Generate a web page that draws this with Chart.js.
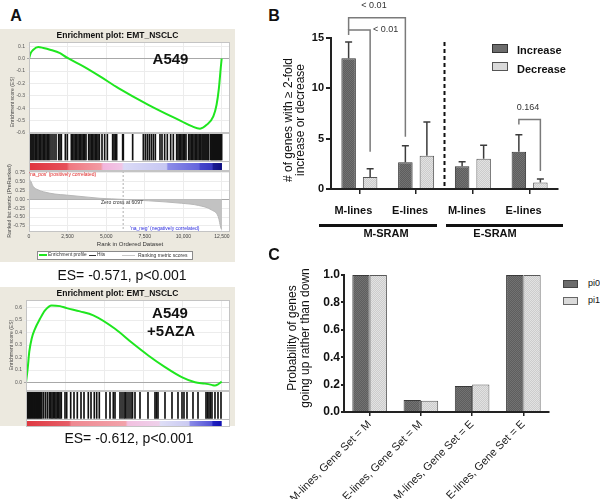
<!DOCTYPE html>
<html>
<head>
<meta charset="utf-8">
<script src="https://cdn.jsdelivr.net/npm/chart.js@4.4.0/dist/chart.umd.min.js"></script>
<style>
body { margin: 0; background: #fff; }
#page { position: relative; width: 600px; height: 499px; overflow: hidden; font-family: 'Liberation Sans', Arial, sans-serif; color: #111; }
#page canvas { position: absolute; }
.c, .l, .r, .b { position: absolute; white-space: nowrap; line-height: 1; }
.c { transform: translate(-50%, -50%); }
.l { transform: translate(0, -50%); }
.r { transform: translate(-50%, -50%) rotate(-90deg); }
.beige { position: absolute; background: #ece9df; }
.bx { position: absolute; }
</style>
</head>
<body>
<div id="page">
  <!-- panel A frames -->
  <div class="beige" style="left:0;top:29px;width:235px;height:233px"></div>
  <div class="beige" style="left:0;top:287px;width:235px;height:139px"></div>

  <canvas id="esA"></canvas>
  <canvas id="hitA"></canvas>
  <canvas id="rankA"></canvas>
  <canvas id="esB"></canvas>
  <canvas id="hitB"></canvas>
  <canvas id="barB"></canvas>
  <canvas id="barC"></canvas>

  <div class="c" style="left:16px;top:15.5px;font-size:16px;font-weight:bold">A</div>
  <div class="c" style="left:274px;top:15.5px;font-size:16px;font-weight:bold">B</div>
  <div class="c" style="left:274px;top:255px;font-size:16px;font-weight:bold">C</div>

  <!-- GSEA top -->
  <div class="c" style="left:117.5px;top:35px;font-size:8.5px;font-weight:bold">Enrichment plot: EMT_NSCLC</div>
  <div class="c" style="left:170.5px;top:58px;font-size:15px;font-weight:bold">A549</div>
  <div class="r" style="left:12px;top:102px;font-size:5px;color:#444">Enrichment score (ES)</div>
  <div class="r" style="left:10px;top:201px;font-size:5.3px;color:#444">Ranked list metric (PreRanked)</div>
  <div class="l" style="left:29px;top:174px;font-size:5px;color:#e02626">'na_pos' (positively correlated)</div>
  <div class="l" style="left:130px;top:227.5px;font-size:5px;color:#2a2ae0">'na_neg' (negatively correlated)</div>
  <div class="l" style="left:101px;top:201.5px;font-size:5px;color:#333">Zero cross at 6097</div>
  <div class="c" style="left:130px;top:244px;font-size:6px;color:#333">Rank in Ordered Dataset</div>
  <div class="bx" style="left:37px;top:250.5px;width:156px;height:9px;border:1px solid #8a8a8a;background:#fff;box-sizing:border-box"></div>
  <div class="bx" style="left:39px;top:254px;width:8px;height:2px;background:#1fe61f"></div>
  <div class="l" style="left:48px;top:255px;font-size:4.8px;color:#333">Enrichment profile</div>
  <div class="bx" style="left:89px;top:254.5px;width:7px;height:1px;background:#333"></div>
  <div class="l" style="left:97px;top:255px;font-size:4.8px;color:#333">Hits</div>
  <div class="bx" style="left:122px;top:254.5px;width:13px;height:1px;background:#c8c8c8"></div>
  <div class="l" style="left:138px;top:255px;font-size:5px;color:#333">Ranking metric scores</div>
  <div class="c" style="left:122px;top:275px;font-size:14px">ES= -0.571, p&lt;0.001</div>

  <!-- GSEA bottom -->
  <div class="c" style="left:117.5px;top:292.5px;font-size:8.5px;font-weight:bold">Enrichment plot: EMT_NSCLC</div>
  <div class="c" style="left:170px;top:312px;font-size:15px;font-weight:bold">A549</div>
  <div class="c" style="left:171px;top:330px;font-size:15px;font-weight:bold">+5AZA</div>
  <div class="r" style="left:11px;top:345px;font-size:5px;color:#444">Enrichment score (ES)</div>
  <div class="c" style="left:129px;top:438px;font-size:14px">ES= -0.612, p&lt;0.001</div>

  <!-- panel B -->
  <div class="r" style="left:287.5px;top:120px;font-size:12px">&#35; of genes with &#8805; 2-fold</div>
  <div class="r" style="left:300px;top:120px;font-size:12px">increase or decrease</div>
  <div class="c" style="left:374px;top:5px;font-size:9px;color:#333">&lt; 0.01</div>
  <div class="l" style="left:373px;top:29px;font-size:9px;color:#333">&lt; 0.01</div>
  <div class="c" style="left:528px;top:107px;font-size:9px;color:#333">0.164</div>
  <div class="bx" style="left:492px;top:44px;width:16px;height:9px;background:#6c6c6c;border:1px solid #333;box-sizing:border-box"></div>
  <div class="bx" style="left:492px;top:62px;width:16px;height:9px;background:#dadada;border:1px solid #555;box-sizing:border-box"></div>
  <div class="l" style="left:517px;top:50px;font-size:11px;font-weight:bold">Increase</div>
  <div class="l" style="left:517px;top:69px;font-size:11px;font-weight:bold">Decrease</div>
  <div class="bx" style="left:319px;top:224px;width:118px;height:3px;background:#111"></div>
  <div class="bx" style="left:446px;top:224px;width:117px;height:3px;background:#111"></div>
  <div class="c" style="left:386px;top:233px;font-size:11px;font-weight:bold">M-SRAM</div>
  <div class="c" style="left:495px;top:233px;font-size:11px;font-weight:bold">E-SRAM</div>

  <!-- panel C -->
  <div class="r" style="left:292px;top:338px;font-size:12px">Probability of genes</div>
  <div class="r" style="left:305px;top:338px;font-size:12px">going up rather than down</div>
  <div class="bx" style="left:563px;top:280px;width:15px;height:8px;background:#6c6c6c;border:1px solid #444;box-sizing:border-box"></div>
  <div class="bx" style="left:563px;top:297px;width:15px;height:8px;background:#dadada;border:1px solid #666;box-sizing:border-box"></div>
  <div class="l" style="left:588px;top:283px;font-size:9px">pi0</div>
  <div class="l" style="left:588px;top:300px;font-size:9px">pi1</div>
</div>

<script>
const F = "'Liberation Sans', Arial, sans-serif";

// ---- panel A, top: A549 ----
const rankTicks = [0, 2500, 5000, 7500, 10000, 12500];
const esTicksTop = [0.1, 0, -0.1, -0.2, -0.3, -0.4, -0.5, -0.6];
const esRankTop = [0, 110, 280, 600, 930, 1360, 2010, 2440, 3520, 4600, 5790, 7730, 9890, 10540, 11080, 11510, 11940, 12150, 12300, 12420, 12480];
const esTop = [0, 0.045, 0.073, 0.095, 0.087, 0.073, 0.045, 0.01, -0.062, -0.143, -0.237, -0.372, -0.506, -0.545, -0.565, -0.534, -0.466, -0.372, -0.24, -0.075, 0];
const hitsTop = [65, 130, 195, 260, 324, 411, 497, 583, 670, 756, 842, 929, 1015, 1101, 1188, 1274, 1361,
  1490, 1620, 1749, 1922, 2008, 2095, 2354, 2483, 2742, 2829, 2915, 3001, 3088, 3174, 3260, 3347, 3433, 3520,
  3606, 3692, 3865, 3951, 4038, 4124, 4210, 4297, 4383, 4469, 4556, 4729, 4901, 5074, 5419, 5506, 5592, 5679,
  6067, 6110, 6715, 7406, 7535, 7665, 7794, 7924, 8053, 8183, 8485, 8615, 8787, 8960, 9176, 9349, 9565, 9651,
  9737, 9824, 9910, 9997, 10083, 10169, 10342, 10428, 10515, 10601, 10688, 10774, 10860, 10947, 11033, 11120,
  11206, 11270, 11335, 11400, 11465, 11530, 11595, 11640, 11770, 11835, 11900, 11965, 12030, 12095, 12160,
  12225, 12290, 12355, 12420, 12480];
const metricTicks = [0.75, 0.5, 0.25, 0, -0.25, -0.5, -0.75];
const metricRank = [0, 20, 130, 280, 580, 930, 1680, 2440, 3630, 4600, 6097, 7730, 9890, 10970, 11830, 12260, 12440, 12500];
const metricScore = [0.72, 0.62, 0.5, 0.36, 0.27, 0.215, 0.15, 0.12, 0.07, 0.03, 0, -0.04, -0.11, -0.17, -0.3, -0.49, -0.82, -0.85];
const zeroCross = 6097;

// ---- panel A, bottom: A549 +5AZA ----
const esTicksBot = [0.6, 0.5, 0.4, 0.3, 0.2, 0.1, 0];
const esRankBot = [0, 110, 210, 365, 575, 895, 1215, 1640, 2170, 2600, 3450, 4300, 5685, 6750, 7810, 8880, 9945, 10795, 11430, 11860, 12070, 12280, 12500];
const esBot = [0, 0.115, 0.247, 0.353, 0.43, 0.51, 0.577, 0.617, 0.611, 0.595, 0.569, 0.537, 0.43, 0.32, 0.217, 0.124, 0.044, 0.003, -0.008, -0.018, -0.024, -0.013, 0.008];
const hitsBot = [45, 110, 175, 240, 300, 365, 430, 495, 560, 620, 690, 750, 815, 880, 945, 1000, 1105, 1233,
  1360, 1488, 1578, 1661, 1744, 1833, 1916, 1999, 2089, 2172, 2255, 2491, 2600, 2855, 3066, 3277, 3513, 3705,
  3979, 4152, 4362, 4516, 4682, 5110, 5365, 5576, 5685, 6004, 6132, 6260, 6342, 6451, 6579, 6706, 6802, 6962,
  7281, 7792, 8239, 8335, 8431, 8878, 9325, 9708, 9964, 10091, 10283, 10666, 10986, 11497, 11593, 11688,
  11784, 11880, 12071, 12263, 12455];
const nGenes = 12500;

// ---- panel B ----
const groupsB = ['M-lines', 'E-lines', 'M-lines', 'E-lines'];
const increase = [13.0, 2.65, 2.25, 3.7];
const increaseErr = [1.6, 1.65, 0.45, 1.7];
const decrease = [1.2, 3.3, 3.0, 0.65];
const decreaseErr = [0.8, 3.35, 1.35, 0.35];
const ticksB = [0, 5, 10, 15];

// ---- panel C ----
const groupsC = ['M-lines, Gene Set = M', 'E-lines, Gene Set = M', 'M-lines, Gene Set = E', 'E-lines, Gene Set = E'];
const pi0 = [1.0, 0.088, 0.19, 1.0];
const pi1 = [1.0, 0.083, 0.2, 1.0];
const ticksC = [0, 0.2, 0.4, 0.6, 0.8, 1.0];

Chart.defaults.font.family = F;
Chart.defaults.animation = false;
Chart.defaults.responsive = false;
Chart.defaults.events = [];
Chart.defaults.plugins.legend.display = false;
Chart.defaults.plugins.tooltip.enabled = false;

// size a canvas so that its chart area lands on the given page box
function place(id, area, yW, xH, pad) {
  const p = Object.assign({l: 10, t: 10, r: 10, b: 10}, pad || {});
  const cv = document.getElementById(id);
  cv.width = Math.round(area[2] - area[0] + yW + p.l + p.r);
  cv.height = Math.round(area[3] - area[1] + xH + p.t + p.b);
  cv.style.left = (area[0] - yW - p.l) + 'px';
  cv.style.top = (area[1] - p.t) + 'px';
  return {ctx: cv.getContext('2d'), padding: {left: p.l, top: p.t, right: p.r, bottom: p.b}};
}

const frame = {
  id: 'frame',
  beforeDraw(chart, args, o) {
    if (!o.fill) return;
    const a = chart.chartArea, g = chart.ctx;
    g.save(); g.fillStyle = o.fill;
    g.fillRect(a.left, a.top, a.right - a.left, a.bottom - a.top);
    g.restore();
  },
  afterDraw(chart, args, o) {
    if (!o.stroke) return;
    const a = chart.chartArea, g = chart.ctx;
    g.save(); g.strokeStyle = o.stroke; g.lineWidth = 1;
    g.strokeRect(a.left + 0.5, a.top + 0.5, a.right - a.left - 1, a.bottom - a.top - 1);
    g.restore();
  }
};
Chart.register(frame);

function rankAxis(max, labels) {
  return {
    type: 'linear', min: 0, max: max, offset: false,
    afterBuildTicks: s => { s.ticks = rankTicks.map(v => ({value: v})); },
    ticks: {display: labels, font: {size: 5}, color: '#444', maxRotation: 0, padding: 0, callback: v => v.toLocaleString('en-US')},
    grid: {color: '#ececec', drawTicks: labels, tickLength: 2},
    border: {display: false},
    afterFit: s => { s.height = labels ? 12 : 0; }
  };
}

function valueAxis(min, max, ticks, width, digits) {
  return {
    min: min, max: max,
    afterBuildTicks: s => { s.ticks = ticks.map(v => ({value: v})); },
    ticks: {font: {size: 5}, color: '#555', padding: 2, callback: v => v.toFixed(digits)},
    grid: {color: c => (c.tick && c.tick.value === 0 ? '#a8a8a8' : '#ececec'), tickLength: 2},
    border: {display: false},
    afterFit: s => { s.width = width; }
  };
}

function esChart(id, area, yW, xMax, yMin, yMax, ticks, ranks, es) {
  const b = place(id, area, yW, 0);
  return new Chart(b.ctx, {
    type: 'line',
    data: {datasets: [{
      data: ranks.map((r, i) => ({x: r, y: es[i]})),
      borderColor: '#1fe61f', borderWidth: 2, pointRadius: 0,
      cubicInterpolationMode: 'monotone', fill: false
    }]},
    options: {
      layout: {padding: b.padding},
      plugins: {frame: {fill: '#fff', stroke: '#c4c4c4'}},
      scales: {x: rankAxis(xMax, false), y: valueAxis(yMin, yMax, ticks, yW, 1)}
    }
  });
}

// colour strip of the ranked list, drawn in rank units
function colorBar(stops, band) {
  return {
    id: 'colorBar',
    beforeDatasetsDraw(chart) {
      const x = chart.scales.x, y = chart.scales.y, g = chart.ctx;
      const x0 = x.getPixelForValue(0), x1 = x.getPixelForValue(nGenes);
      const grad = g.createLinearGradient(x0, 0, x1, 0);
      stops.forEach(s => grad.addColorStop(s[0] / nGenes, s[1]));
      const top = y.getPixelForValue(band[1]), bot = y.getPixelForValue(band[0]);
      g.save();
      g.fillStyle = grad; g.fillRect(x0, top, x1 - x0, bot - top);
      g.strokeStyle = '#bdbdbd'; g.lineWidth = 1;
      g.beginPath(); g.moveTo(chart.chartArea.left, top - 1.5); g.lineTo(chart.chartArea.right, top - 1.5); g.stroke();
      g.restore();
    }
  };
}

function hitChart(id, area, left, xMax, hits, hitBand, stops, band) {
  const b = place(id, area, 0, 0, {l: left + 10});
  return new Chart(b.ctx, {
    type: 'bar',
    data: {datasets: [{
      data: hits.map(r => ({x: r, y: hitBand})),
      backgroundColor: '#111', barThickness: 1, borderWidth: 0
    }]},
    options: {
      layout: {padding: b.padding},
      plugins: {frame: {fill: '#fff', stroke: '#c4c4c4'}},
      scales: {
        x: {type: 'linear', min: 0, max: xMax, offset: false, grid: {offset: false}, display: false},
        y: {min: 0, max: 1, display: false}
      }
    },
    plugins: [colorBar(stops, band)]
  });
}

// ---- GSEA top ----
esChart('esA', [29, 42, 230, 133], 29, 13020, -0.6, 0.135, esTicksTop, esRankTop, esTop);
hitChart('hitA', [29, 133, 230, 171], 29, 13020, hitsTop, [0.29, 1],
  [[0, '#e0343e'], [2450, '#e6505a'], [2600, '#ef7880'], [4650, '#f29aa2'], [4800, '#f2b4dc'], [6000, '#f0c6e6'],
   [6150, '#dadaf6'], [8900, '#c6c6f2'], [9000, '#8c8ce8'], [11000, '#6464dc'], [11100, '#4646cc'],
   [11850, '#3838c0'], [11950, '#1a1a92'], [12500, '#0e0e80']], [0, 0.21]);

const zeroLine = {
  id: 'zeroLine',
  afterDatasetsDraw(chart) {
    const x = chart.scales.x.getPixelForValue(zeroCross), a = chart.chartArea, g = chart.ctx;
    g.save(); g.strokeStyle = '#9a9a9a'; g.lineWidth = 0.8; g.setLineDash([2, 2]);
    g.beginPath(); g.moveTo(x, a.top); g.lineTo(x, a.bottom); g.stroke(); g.restore();
  }
};
(function () {
  const b = place('rankA', [29, 171, 230, 232], 29, 12);
  new Chart(b.ctx, {
    type: 'line',
    data: {datasets: [{
      data: metricRank.map((r, i) => ({x: r, y: metricScore[i]})),
      borderColor: '#b8b8b8', borderWidth: 1, backgroundColor: '#c2c2c2',
      pointRadius: 0, fill: 'origin', cubicInterpolationMode: 'monotone'
    }]},
    options: {
      layout: {padding: b.padding},
      plugins: {frame: {fill: '#fff', stroke: '#c4c4c4'}},
      scales: {x: rankAxis(13020, true), y: valueAxis(-0.92, 0.8, metricTicks, 29, 2)}
    },
    plugins: [zeroLine]
  });
})();

// ---- GSEA bottom ----
esChart('esB', [26, 300, 230, 391], 26, 13030, -0.067, 0.66, esTicksBot, esRankBot, esBot);
hitChart('hitB', [26, 391, 230, 427], 26, 13030, hitsBot, [0.24, 1],
  [[0, '#de3840'], [2750, '#e65e68'], [2900, '#ee8890'], [6350, '#f2a2aa'], [6500, '#f2c0e0'], [8500, '#eed0ea'],
   [8600, '#dedef6'], [10400, '#cacaf2'], [10500, '#8a8ae6'], [11850, '#5252d6'], [11950, '#2020c0'],
   [12500, '#1010b0']], [0, 0.167]);

// ---- panel B ----
function texture(ctx, a, b) {
  const t = document.createElement('canvas');
  t.width = t.height = 2;
  const g = t.getContext('2d');
  g.fillStyle = a; g.fillRect(0, 0, 2, 2);
  g.fillStyle = b; g.fillRect(0, 0, 1, 1); g.fillRect(1, 1, 1, 1);
  return ctx.createPattern(t, 'repeat');
}

const errorBars = {
  id: 'errorBars',
  afterDatasetsDraw(chart) {
    const g = chart.ctx, y = chart.scales.y;
    chart.data.datasets.forEach((ds, i) => {
      if (!ds.errors) return;
      chart.getDatasetMeta(i).data.forEach((bar, j) => {
        const top = y.getPixelForValue(ds.data[j] + ds.errors[j]);
        g.save(); g.strokeStyle = '#3c3c3c'; g.lineWidth = 1.5;
        g.beginPath();
        g.moveTo(bar.x, bar.y); g.lineTo(bar.x, top);
        g.moveTo(bar.x - 3.5, top); g.lineTo(bar.x + 3.5, top);
        g.stroke(); g.restore();
      });
    });
  }
};

// significance brackets: ends are [dataset, group]; heights in axis units
const brackets = [
  {from: [0, 0], to: [0, 1], top: 17.0, fromEnd: 15.8, toEnd: 5.2},
  {from: [0, 0], to: [1, 0], top: 15.8, fromEnd: 15.3, toEnd: 3.7},
  {from: [0, 3], to: [1, 3], top: 6.9, fromEnd: 6.4, toEnd: 1.8}
];
const decor = {
  id: 'decor',
  afterDraw(chart) {
    const g = chart.ctx, y = chart.scales.y, x = chart.scales.x;
    g.save();
    g.strokeStyle = '#7a7a7a'; g.lineWidth = 1.5;
    brackets.forEach(b => {
      const xa = chart.getDatasetMeta(b.from[0]).data[b.from[1]].x;
      const xb = chart.getDatasetMeta(b.to[0]).data[b.to[1]].x;
      const yt = y.getPixelForValue(b.top);
      g.beginPath();
      g.moveTo(xa, y.getPixelForValue(b.fromEnd)); g.lineTo(xa, yt);
      g.lineTo(xb, yt); g.lineTo(xb, y.getPixelForValue(b.toEnd));
      g.stroke();
    });
    const xs = x.getPixelForValue(1.5);
    g.strokeStyle = '#111'; g.lineWidth = 2; g.setLineDash([4, 3]);
    g.beginPath(); g.moveTo(xs, y.getPixelForValue(14.6)); g.lineTo(xs, y.getPixelForValue(0)); g.stroke();
    g.restore();
  }
};

(function () {
  const b = place('barB', [331, 38, 558, 189], 30, 40, {t: 38, r: 30});
  new Chart(b.ctx, {
    type: 'bar',
    data: {
      labels: groupsB,
      datasets: [
        {label: 'Increase', data: increase, errors: increaseErr, backgroundColor: texture(b.ctx, '#727272', '#5e5e5e'), borderColor: '#333', borderWidth: 1},
        {label: 'Decrease', data: decrease, errors: decreaseErr, backgroundColor: texture(b.ctx, '#e2e2e2', '#cccccc'), borderColor: '#555', borderWidth: 1}
      ]
    },
    options: {
      layout: {padding: b.padding},
      categoryPercentage: 0.758, barPercentage: 0.674,
      scales: {
        x: {
          grid: {display: true, drawOnChartArea: false, offset: false, tickLength: 5, color: '#222', lineWidth: 1.5},
          border: {color: '#222', width: 2},
          ticks: {font: {size: 11, weight: 'bold'}, color: '#111', padding: 10, labelOffset: -6},
          afterFit: s => { s.height = 40; }
        },
        y: {
          min: 0, max: 15,
          afterBuildTicks: s => { s.ticks = ticksB.map(v => ({value: v})); },
          grid: {drawOnChartArea: false, tickLength: 5, color: '#222', lineWidth: 2},
          border: {color: '#222', width: 2},
          ticks: {font: {size: 11, weight: 'bold'}, color: '#111', padding: 2},
          afterFit: s => { s.width = 30; }
        }
      }
    },
    plugins: [errorBars, decor]
  });
})();

// ---- panel C ----
(function () {
  const b = place('barC', [344, 275, 549, 412], 24, 100, {l: 40});
  new Chart(b.ctx, {
    type: 'bar',
    data: {
      labels: groupsC,
      datasets: [
        {label: 'pi0', data: pi0, backgroundColor: texture(b.ctx, '#727272', '#5e5e5e'), borderColor: '#3a3a3a', borderWidth: 1},
        {label: 'pi1', data: pi1, backgroundColor: texture(b.ctx, '#e2e2e2', '#cccccc'), borderColor: '#5a5a5a', borderWidth: 1}
      ]
    },
    options: {
      layout: {padding: b.padding},
      categoryPercentage: 0.675, barPercentage: 1.0,
      scales: {
        x: {
          grid: {display: true, drawOnChartArea: false, offset: false, tickLength: 4, color: '#222', lineWidth: 1.5},
          border: {color: '#222', width: 2},
          ticks: {font: {size: 11}, color: '#222', minRotation: 45, maxRotation: 45, autoSkip: false, padding: 2},
          afterFit: s => { s.height = 100; }
        },
        y: {
          min: 0, max: 1,
          afterBuildTicks: s => { s.ticks = ticksC.map(v => ({value: v})); },
          grid: {drawOnChartArea: false, tickLength: 3, color: '#222', lineWidth: 2},
          border: {color: '#222', width: 2},
          ticks: {font: {size: 12, weight: 'bold'}, color: '#111', padding: 1, callback: v => v.toFixed(1)},
          afterFit: s => { s.width = 24; }
        }
      }
    }
  });
})();
</script>
</body>
</html>
